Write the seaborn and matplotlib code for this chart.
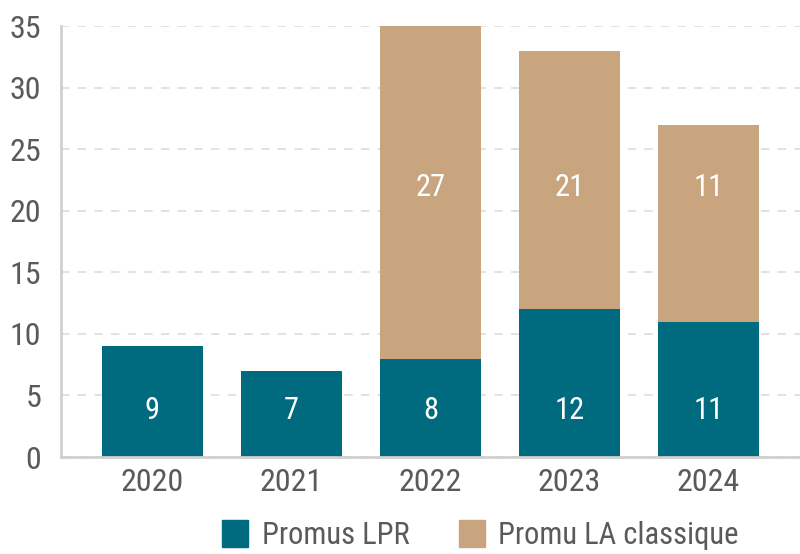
import matplotlib
matplotlib.use('Agg')
import matplotlib.pyplot as plt
from matplotlib import font_manager as fm
from matplotlib.patches import Patch
import numpy as np
import pandas as pd
import seaborn as sns

### Data ###
years = ['2020', '2021', '2022', '2023', '2024']
promus_lpr = [9, 7, 8, 12, 11]
promu_la = [0, 0, 27, 21, 16]
lpr_labels = ['9', '7', '8', '12', '11']
la_labels = ['', '', '27', '21', '11']

teal = '#006B7F'
tan = '#C8A57F'
grey_txt = '#5a5a5a'

sns.set_style('white')

# look for a narrow face, the reference uses a condensed font
wanted = ['RobotoCondensed-Regular', 'RobotoCondensed-Light', 'OpenSans_Condensed-Light',
          'OpenSansCondensed-Light', 'DejaVuSansCondensed.ttf', 'LiberationSansNarrow-Regular']
font_path = None
all_files = [f.fname for f in fm.fontManager.ttflist]
for w in wanted:
    hits = [f for f in all_files if w in f]
    if hits:
        font_path = hits[0]
        break
if font_path is None:
    hits = [f for f in all_files if 'Condensed' in f or 'Narrow' in f]
    font_path = hits[0] if hits else fm.findfont('DejaVu Sans')


def fp(size):
    return fm.FontProperties(fname=font_path, size=size)


df = pd.DataFrame({'year': years, 'lpr': promus_lpr, 'la': promu_la})

fig = plt.figure(figsize=(8, 5.54), dpi=100)
ax = fig.add_axes([0.076, 0.175, 0.924, 0.778])

sns.barplot(data=df, x='year', y='la', bottom=df['lpr'], color=tan,
            width=0.727, saturation=1, linewidth=0, ax=ax, zorder=2)
sns.barplot(data=df, x='year', y='lpr', color=teal,
            width=0.727, saturation=1, linewidth=0, ax=ax, zorder=2)

# labels sit at fixed heights in the original
for i in range(len(years)):
    ax.text(i, 3.8, lpr_labels[i], ha='center', va='center',
            color='white', fontproperties=fp(22))
    if la_labels[i]:
        ax.text(i, 21.9, la_labels[i], ha='center', va='center',
                color='white', fontproperties=fp(22))

ax.set_xlim(-0.658, 4.658)
ax.set_ylim(0, 35)
ax.set_yticks(range(0, 36, 5))
ax.yaxis.grid(True, color='#dddddd', linestyle=(0, (5, 5)), linewidth=1.2, zorder=0)
ax.set_axisbelow(True)
ax.set(xlabel='', ylabel='')

for s in ['top', 'right']:
    ax.spines[s].set_visible(False)
for s in ['left', 'bottom']:
    ax.spines[s].set_color('#d0d0d0')
    ax.spines[s].set_linewidth(2)

ax.tick_params(axis='both', length=0, labelcolor=grey_txt)
ax.tick_params(axis='y', pad=14)
ax.tick_params(axis='x', pad=8)
for lab in ax.get_xticklabels() + ax.get_yticklabels():
    lab.set_fontproperties(fp(23))

handles = [Patch(color=teal, label='Promus LPR'),
           Patch(color=tan, label='Promu LA classique')]
ax.legend(handles=handles, loc='upper center', bbox_to_anchor=(0.568, -0.118),
          ncol=2, frameon=False, prop=fp(22), labelcolor=grey_txt,
          handlelength=0.85, handleheight=1.0, handletextpad=0.45,
          columnspacing=1.6, borderaxespad=0)

fig.savefig('out.png', dpi=100)
